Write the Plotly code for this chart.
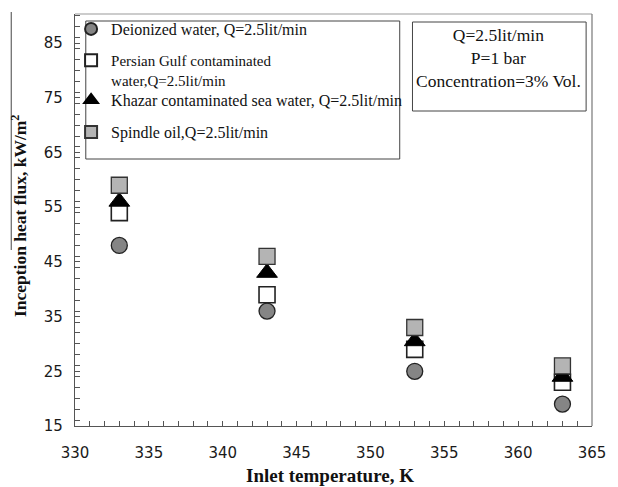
import plotly.graph_objects as go

# Inlet temperature (K) and inception heat flux (kW/m2) for each fluid
inlet_temp = [333, 343, 353, 363]
deionized = [48, 36, 25, 19]
persian_gulf = [54, 39, 29, 23]
khazar = [56, 43, 30.5, 24]
spindle_oil = [59, 46, 33, 26]

series_names = [
    "Deionized water, Q=2.5lit/min",
    "Persian Gulf contaminated<br>water,Q=2.5lit/min",
    "Khazar contaminated sea water, Q=2.5lit/min",
    "Spindle oil,Q=2.5lit/min",
]

SERIF = "Liberation Serif"
SANS = "DejaVu Sans"

# plot area in pixels (for converting box positions to paper coordinates)
L, R, T, B = 75, 602, 14, 426
def px(x):
    return (x - L) / (R - L)
def py(y):
    return (B - y) / (B - T)

fig = go.Figure()

styles = [
    dict(symbol="circle", color="#858585", line=dict(color="#222", width=1.3)),
    dict(symbol="square", color="white", line=dict(color="#222", width=1.6)),
    dict(symbol="triangle-up", color="black", line=dict(color="black", width=1)),
    dict(symbol="square", color="#b4b4b4", line=dict(color="#333", width=1.3)),
]
values = [deionized, persian_gulf, khazar, spindle_oil]
sizes = [16, 16, 18, 16]
legend_ids = ["legend", "legend2", "legend3", "legend4"]

for i in range(4):
    st = styles[i]
    fig.add_trace(go.Scatter(
        x=inlet_temp, y=values[i], mode="markers", name=series_names[i],
        marker=dict(symbol=st["symbol"], size=sizes[i], color=st["color"], line=st["line"]),
        legend=legend_ids[i],
    ))

# legend entries placed individually inside one framed box
legend_tops = [12, 44, 83, 115]
legend_font_sizes = [16, 15, 16, 16]
layout_legends = {}
for lid, top, fs in zip(legend_ids, legend_tops, legend_font_sizes):
    layout_legends[lid] = dict(
        x=px(71), y=py(top), xanchor="left", yanchor="top",
        bgcolor="rgba(0,0,0,0)", borderwidth=0,
        font=dict(family=SERIF, size=fs, color="#111"),
        itemsizing="constant", valign="top",
    )

shapes = [
    # legend frame
    dict(type="rect", xref="paper", yref="paper", x0=px(86), x1=px(406), y0=py(159), y1=py(21),
         line=dict(color="#444", width=1)),
    # conditions box
    dict(type="rect", xref="paper", yref="paper", x0=px(419), x1=px(596), y0=py(111), y1=py(22),
         line=dict(color="#444", width=1)),
    # top and right frame of the plot area
    dict(type="line", xref="paper", yref="paper", x0=0, x1=1, y0=1, y1=1, line=dict(color="#999", width=1.2)),
    dict(type="line", xref="paper", yref="paper", x0=1, x1=1, y0=0, y1=1, line=dict(color="#777", width=1.2)),
    # rule beside the y-axis title
    dict(type="line", xref="paper", yref="paper", x0=px(10), x1=px(10), y0=py(12), y1=py(250),
         line=dict(color="#444", width=1)),
]

annotations = [
    dict(text="Q=2.5lit/min<br>P=1 bar<br>Concentration=3% Vol.", xref="paper", yref="paper",
         x=px(507), y=py(58), xanchor="center", yanchor="middle", showarrow=False, align="center",
         font=dict(family=SERIF, size=17.5, color="#111")),
    dict(text="<b>Inception heat flux, kW/m<sup>2</sup></b>", xref="paper", yref="paper",
         x=px(18), y=py(216), xanchor="center", yanchor="middle", textangle=-90, showarrow=False,
         font=dict(family=SERIF, size=17.5, color="#111")),
    dict(text="<b>Inlet temperature, K</b>", xref="paper", yref="paper",
         x=px(335), y=py(475), xanchor="center", yanchor="middle", showarrow=False,
         font=dict(family=SERIF, size=19, color="#111")),
]

axis_common = dict(
    showgrid=False, zeroline=False, showline=True, linecolor="#555", linewidth=1.2,
    ticks="inside", ticklen=5, tickcolor="#555", tickwidth=1,
    tickfont=dict(family=SANS, size=15, color="#1a1a1a"),
)

fig.update_layout(
    width=618, height=487,
    margin=dict(l=L, r=618 - R, t=T, b=487 - B),
    paper_bgcolor="white", plot_bgcolor="white",
    showlegend=True,
    xaxis=dict(axis_common, range=[330, 365], tick0=330, dtick=5, ticklabelstandoff=13,
               minor=dict(dtick=1, ticks="inside", ticklen=5, tickcolor="#555")),
    yaxis=dict(axis_common, range=[15, 90.3], tick0=15, dtick=10, ticklabelstandoff=8,
               minor=dict(dtick=2, ticks="inside", ticklen=5, tickcolor="#555")),
    shapes=shapes,
    annotations=annotations,
    **layout_legends,
)

fig.write_html("out.html")
